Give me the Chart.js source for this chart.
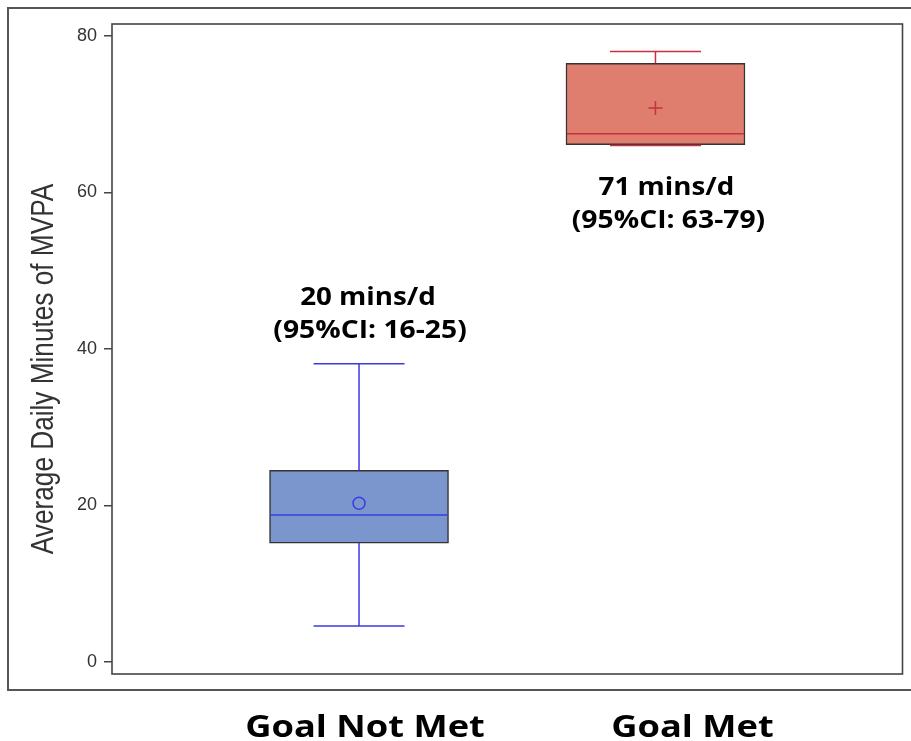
<!DOCTYPE html>
<html>
<head>
<meta charset="utf-8">
<script src="https://cdn.jsdelivr.net/npm/chart.js@4.4.1/dist/chart.umd.min.js"></script>
<style>
  html, body { margin: 0; padding: 0; background: #fff; }
  #wrap { width: 911px; height: 741px; }
</style>
</head>
<body>
<div id="wrap"><canvas id="c" width="911" height="741"></canvas></div>
<script>
// Box-plot summaries of average daily MVPA minutes per group
const categories   = ['Goal Not Met', 'Goal Met'];
const groupX       = [1, 2];
const whiskerLow   = [4.6, 66.0];
const q1           = [15.2, 66.1];
const median       = [18.8, 67.5];
const q3           = [24.5, 76.5];
const whiskerHigh  = [38.1, 78.0];
const means        = [20.3, 70.8];
const meanLabels   = ['20 mins/d', '71 mins/d'];
const ciLabels     = ['(95%CI: 16-25)', '(95%CI: 63-79)'];
const yTicks       = [0, 20, 40, 60, 80];
const yTitle       = 'Average Daily Minutes of MVPA';

const fillColors = ['#7b96cc', '#df7e6e'];
const lineColors = ['#3b3be3', '#c8303f'];

// whiskers, caps and medians drawn through the chart scales
const boxExtras = {
  id: 'boxExtras',
  afterDatasetsDraw(chart) {
    const { ctx, scales: { x, y } } = chart;
    const boxes = chart.getDatasetMeta(0).data;
    ctx.save();
    ctx.lineWidth = 1.5;
    groupX.forEach((gx, i) => {
      const cx = x.getPixelForValue(gx);
      const capHalf = (x.getPixelForValue(gx + 0.1535) - cx);
      const bar = boxes[i];
      const halfW = bar.width / 2;
      ctx.strokeStyle = lineColors[i];
      ctx.beginPath();
      // upper whisker
      ctx.moveTo(cx, y.getPixelForValue(q3[i]));
      ctx.lineTo(cx, y.getPixelForValue(whiskerHigh[i]));
      ctx.moveTo(cx - capHalf, y.getPixelForValue(whiskerHigh[i]));
      ctx.lineTo(cx + capHalf, y.getPixelForValue(whiskerHigh[i]));
      // lower whisker
      ctx.moveTo(cx, y.getPixelForValue(q1[i]));
      ctx.lineTo(cx, y.getPixelForValue(whiskerLow[i]));
      ctx.moveTo(cx - capHalf, y.getPixelForValue(whiskerLow[i]));
      ctx.lineTo(cx + capHalf, y.getPixelForValue(whiskerLow[i]));
      // median
      ctx.moveTo(cx - halfW + 1, y.getPixelForValue(median[i]));
      ctx.lineTo(cx + halfW - 1, y.getPixelForValue(median[i]));
      ctx.stroke();
    });
    ctx.restore();
  }
};

// text drawn with a horizontal stretch around its centre
function stretchedText(ctx, text, cx, baseline, sx) {
  ctx.save();
  ctx.translate(cx, baseline);
  ctx.scale(sx, 1);
  ctx.fillText(text, 0, 0);
  ctx.restore();
}

// plot frame, outer frame, axis title, annotations and group names
const decorations = {
  id: 'decorations',
  afterDraw(chart) {
    const { ctx, chartArea: a, scales: { x, y } } = chart;
    ctx.save();
    // inner frame
    ctx.strokeStyle = '#444';
    ctx.lineWidth = 1.6;
    ctx.strokeRect(a.left, a.top, a.right - a.left, a.bottom - a.top);
    // outer frame
    ctx.strokeStyle = '#555';
    ctx.lineWidth = 2;
    ctx.strokeRect(8, 8, 920, 682);

    // condensed, rotated axis title
    ctx.save();
    ctx.translate(53, 369);
    ctx.rotate(-Math.PI / 2);
    ctx.scale(0.845, 1);
    ctx.font = '31px "Liberation Sans", Arial, sans-serif';
    ctx.fillStyle = '#333';
    ctx.textAlign = 'center';
    ctx.textBaseline = 'alphabetic';
    ctx.fillText(yTitle, 0, 0);
    ctx.restore();

    ctx.fillStyle = '#000';
    ctx.textAlign = 'center';
    ctx.textBaseline = 'alphabetic';
    ctx.font = 'bold 25px "Open Sans", Lato, sans-serif';
    // annotation above the upper whisker for the first group, below the box for the second
    const cx0 = x.getPixelForValue(groupX[0]) + 9;
    const top0 = y.getPixelForValue(whiskerHigh[0]);
    stretchedText(ctx, meanLabels[0], cx0, top0 - 59, 1.11);
    stretchedText(ctx, ciLabels[0], cx0 + 2, top0 - 26, 1.13);
    const cx1 = x.getPixelForValue(groupX[1]) + 11;
    const bot1 = y.getPixelForValue(whiskerLow[1]);
    stretchedText(ctx, meanLabels[1], cx1, bot1 + 49, 1.11);
    stretchedText(ctx, ciLabels[1], cx1 + 2, bot1 + 82, 1.13);

    // group names under the figure
    ctx.font = 'bold 31px "Open Sans", Lato, sans-serif';
    const nameShift = [6, 37];
    groupX.forEach((gx, i) => {
      stretchedText(ctx, categories[i], x.getPixelForValue(gx) + nameShift[i], 737, 1.17);
    });
    ctx.restore();
  }
};

new Chart(document.getElementById('c'), {
  type: 'bar',
  data: {
    datasets: [
      {
        type: 'bar',
        data: groupX.map((gx, i) => ({ x: gx, y: [q1[i], q3[i]] })),
        backgroundColor: fillColors,
        borderColor: '#333',
        borderWidth: 1.5,
        borderSkipped: false,
        barThickness: 179,
        order: 2
      },
      {
        type: 'scatter',
        data: groupX.map((gx, i) => ({ x: gx, y: means[i] })),
        pointStyle: ['circle', 'cross'],
        radius: [6, 7],
        borderColor: lineColors,
        backgroundColor: 'rgba(0,0,0,0)',
        borderWidth: 1.5,
        order: 1
      }
    ]
  },
  options: {
    responsive: false,
    animation: false,
    devicePixelRatio: 1,
    layout: { padding: { left: 0, right: 8, top: 24, bottom: 67 } },
    plugins: { legend: { display: false }, tooltip: { enabled: false } },
    scales: {
      x: {
        type: 'linear',
        offset: false,
        min: 1 - 0.8333,
        max: 2 + 0.8333,
        display: false
      },
      y: {
        type: 'linear',
        min: -1.53,
        max: 81.53,
        afterBuildTicks: s => { s.ticks = yTicks.map(v => ({ value: v })); },
        afterFit: s => { s.width = 112; },
        grid: { drawOnChartArea: false, drawTicks: true, tickLength: 8, color: '#444', lineWidth: 1.5 },
        border: { display: false },
        ticks: {
          padding: 7,
          color: '#333',
          font: { family: '"Liberation Sans", Arial, sans-serif', size: 18 }
        },
        title: { display: false }
      }
    }
  },
  plugins: [boxExtras, decorations]
});
</script>
</body>
</html>
